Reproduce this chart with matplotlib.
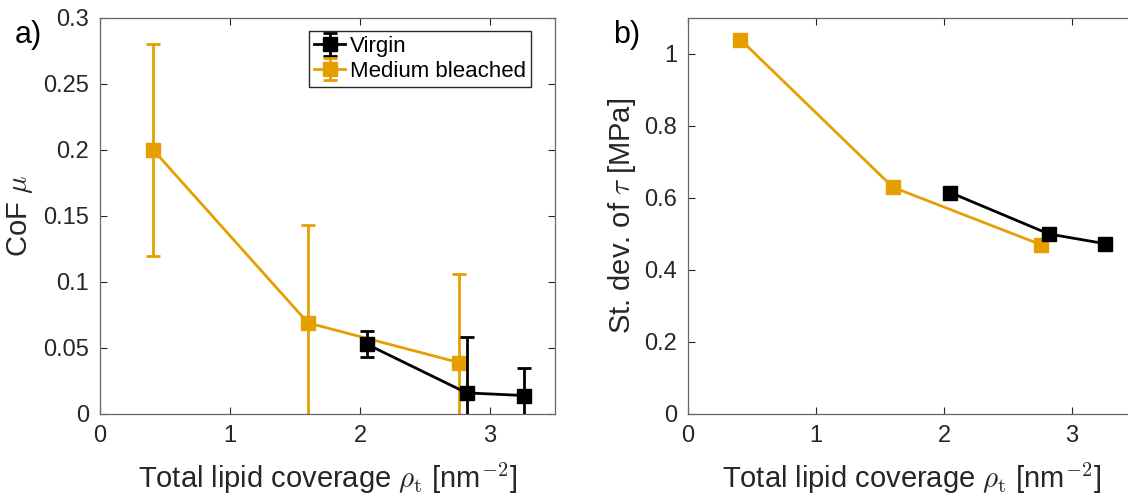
import matplotlib
matplotlib.use("Agg")
import matplotlib.pyplot as plt

plt.rcParams['font.family'] = ['Liberation Sans', 'DejaVu Sans']
plt.rcParams['mathtext.fontset'] = 'cm'

# Data
virgin_x = [2.05, 2.82, 3.26]
virgin_cof = [0.053, 0.016, 0.014]
virgin_err = [0.010, 0.042, 0.021]
virgin_sd = [0.615, 0.500, 0.473]

bleached_x = [0.41, 1.60, 2.76]
bleached_cof = [0.200, 0.069, 0.039]
bleached_err = [0.080, 0.074, 0.067]
bleached_sd = [1.040, 0.630, 0.470]

orange = '#E69F00'
dark = '#262626'

fig = plt.figure(figsize=(11.28, 5.04), dpi=100)
W, H = 1128, 504

def add_ax(l, t, r, b):
    return fig.add_axes([l / W, 1 - b / H, (r - l) / W, (b - t) / H])

ax1 = add_ax(100, 18, 555, 414)
ax2 = add_ax(688, 18, 1136, 414)

lw = 2.0
ms = 10
ax1.errorbar(virgin_x, virgin_cof, yerr=virgin_err, color='black', marker='s',
             ms=ms, lw=lw, elinewidth=lw, capsize=5, capthick=lw, label='Virgin', zorder=3)
ax1.errorbar(bleached_x, bleached_cof, yerr=bleached_err, color=orange, marker='s',
             ms=ms, lw=lw, elinewidth=lw, capsize=5, capthick=lw, label='Medium bleached', zorder=2)
ax1.set_xlim(0, 3.5)
ax1.set_ylim(0, 0.3)
ax1.set_xticks([0, 1, 2, 3])
ax1.set_yticks([0, 0.05, 0.1, 0.15, 0.2, 0.25, 0.3])
ax1.set_yticklabels(['0', '0.05', '0.1', '0.15', '0.2', '0.25', '0.3'])
ax1.set_ylabel(r'CoF $\mu$', fontsize=21, color=dark, labelpad=6)
leg = ax1.legend(loc='upper right', bbox_to_anchor=(0.948, 0.968), fontsize=16,
                 frameon=True, fancybox=False, edgecolor=dark, framealpha=1,
                 handlelength=1.4, borderpad=0.25, labelspacing=0.15, handletextpad=0.2,
                 borderaxespad=0.0)
leg.get_frame().set_linewidth(1.0)

ax2.plot(virgin_x, virgin_sd, color='black', marker='s', ms=ms, lw=lw, zorder=3)
ax2.plot(bleached_x, bleached_sd, color=orange, marker='s', ms=ms, lw=lw, zorder=2)
ax2.set_xlim(0, 3.5)
ax2.set_ylim(0, 1.1)
ax2.set_xticks([0, 1, 2, 3])
ax2.set_yticks([0, 0.2, 0.4, 0.6, 0.8, 1.0])
ax2.set_yticklabels(['0', '0.2', '0.4', '0.6', '0.8', '1'])
ax2.set_ylabel(r'St. dev. of $\tau$ [MPa]', fontsize=21, color=dark)

for ax in (ax1, ax2):
    ax.set_xlabel(r'Total lipid coverage $\rho_{\rm t}$ [nm$^{-2}$]', fontsize=21, color=dark, labelpad=10)
    ax.tick_params(direction='in', top=True, right=True, labelsize=17, colors=dark,
                   length=5, width=0.8, pad=8)
    for s in ax.spines.values():
        s.set_color('#666666')
        s.set_linewidth(0.9)

fig.text(15 / W, 1 - 35 / H, 'a)', fontsize=22, va='center', ha='left')
fig.text(613 / W, 1 - 35 / H, 'b)', fontsize=22, va='center', ha='left')

fig.savefig('out.png', dpi=100)
